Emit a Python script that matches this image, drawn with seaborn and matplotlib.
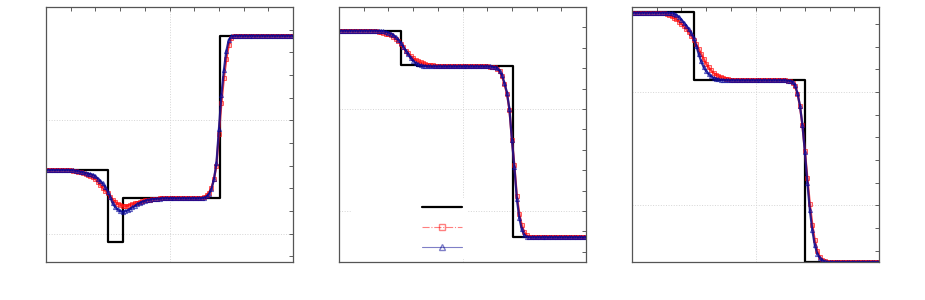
"""
Three-panel comparison of two numerical schemes against the exact
Riemann solution (step lines), tick labels left blank as in the source.
"""

import numpy as np
import matplotlib
matplotlib.use("Agg")
import matplotlib.pyplot as plt
import seaborn as sns
from matplotlib.lines import Line2D
from matplotlib.ticker import MultipleLocator

# mesh of the numerical solutions (cell positions)
x_num = np.round(np.linspace(0.0, 1.0, 101), 2)

# ---- panel 1 ----
p1_exact_x = [0.0, 0.251, 0.312, 0.704, 1.0]
p1_exact_y = [0.562, -0.076, 0.312, 1.747, 1.747]
p1_red = ([0.562] * 9
          + [0.561, 0.559, 0.556, 0.551, 0.546, 0.540, 0.533, 0.526, 0.518, 0.510,
             0.500, 0.482, 0.458, 0.430, 0.402, 0.378, 0.356, 0.326, 0.300, 0.280,
             0.264, 0.253, 0.246, 0.243, 0.245, 0.252, 0.260, 0.267, 0.274, 0.281,
             0.287, 0.293, 0.297, 0.301, 0.304, 0.307, 0.309, 0.311]
          + [0.312] * 15
          + [0.313, 0.316, 0.324, 0.338, 0.362, 0.405, 0.480, 0.600, 0.880, 1.150,
             1.370, 1.540, 1.665, 1.725, 1.742, 1.746]
          + [1.747] * 23)
p1_blue = ([0.562] * 10
           + [0.561, 0.559, 0.556, 0.552, 0.547, 0.541, 0.535, 0.530, 0.526, 0.520,
              0.505, 0.485, 0.463, 0.444, 0.410, 0.370, 0.322, 0.268, 0.235, 0.214,
              0.198, 0.194, 0.198, 0.206, 0.218, 0.232, 0.246, 0.260, 0.272, 0.282,
              0.290, 0.296, 0.301, 0.304, 0.307, 0.309, 0.310, 0.311]
           + [0.312] * 14
           + [0.312, 0.314, 0.318, 0.328, 0.350, 0.395, 0.480, 0.620, 0.920, 1.220,
              1.440, 1.610, 1.710, 1.740, 1.746]
           + [1.747] * 24)

# ---- panel 2 ----
p2_exact_x = [0.0, 0.25, 0.314, 0.703, 1.0]
p2_exact_y = [1.768, 1.436, 1.417, -0.258, -0.258]
p2_red = ([1.768] * 13
          + [1.767, 1.765, 1.762, 1.758, 1.753, 1.747, 1.740, 1.732, 1.722, 1.706,
             1.687, 1.665, 1.637, 1.606, 1.572, 1.545, 1.518, 1.497, 1.481, 1.467,
             1.456, 1.447, 1.440, 1.434, 1.430, 1.427, 1.425, 1.423, 1.421, 1.420,
             1.419]
          + [1.417] * 16
          + [1.417, 1.416, 1.414, 1.410, 1.397, 1.370, 1.320, 1.245, 1.150, 0.990,
             0.700, 0.450, 0.150, -0.030, -0.140, -0.210, -0.240, -0.252, -0.256]
          + [-0.258] * 22)
p2_blue = ([1.768] * 16
           + [1.767, 1.765, 1.762, 1.757, 1.750, 1.740, 1.725, 1.705, 1.680, 1.650,
              1.612, 1.572, 1.535, 1.500, 1.473, 1.452, 1.438, 1.429, 1.424, 1.421,
              1.419, 1.418]
           + [1.417] * 22
           + [1.417, 1.417, 1.415, 1.411, 1.400, 1.375, 1.330, 1.255, 1.160, 1.000,
              0.700, 0.430, 0.120, -0.070, -0.180, -0.235, -0.252, -0.257]
           + [-0.258] * 23)

# ---- panel 3 ----
p3_exact_x = [0.0, 0.25, 0.7016, 1.0]
p3_exact_y = [1.706, 1.103, -0.5, -0.5]
p3_red = ([1.700] * 12
          + [1.698, 1.694, 1.688, 1.679, 1.668, 1.655, 1.640, 1.622, 1.602, 1.582,
             1.556, 1.527, 1.494, 1.459, 1.420, 1.378, 1.335, 1.292, 1.250, 1.217,
             1.190, 1.168, 1.152, 1.140, 1.131, 1.124, 1.119, 1.114, 1.110, 1.107,
             1.105, 1.104]
          + [1.103] * 18
          + [1.102, 1.099, 1.094, 1.083, 1.050, 0.985, 0.875, 0.705, 0.480, 0.240,
             0.010, -0.170, -0.310, -0.400, -0.455, -0.482, -0.494, -0.498]
          + [-0.500] * 21)
p3_blue = ([1.700] * 15
           + [1.699, 1.696, 1.690, 1.680, 1.662, 1.638, 1.612, 1.585, 1.555, 1.518,
              1.474, 1.410, 1.335, 1.270, 1.220, 1.185, 1.158, 1.138, 1.125, 1.117,
              1.111, 1.108, 1.106, 1.104]
           + [1.103] * 23
           + [1.102, 1.100, 1.097, 1.090, 1.060, 0.990, 0.880, 0.710, 0.470, 0.200,
              -0.040, -0.220, -0.350, -0.425, -0.465, -0.486, -0.495]
           + [-0.500] * 22)

y_limits = [(-0.25, 2.0), (-0.5, 2.0), (-0.5, 1.75)]

# dense overlapping markers in the source read as saturated bands
RED_LINE = (1.0, 0.1, 0.1, 0.85)
RED_EDGE = (1.0, 0.0, 0.0, 0.6)
RED_FACE = (1.0, 0.2, 0.2, 0.3)
BLUE_LINE = (0.05, 0.05, 0.55, 0.85)
BLUE_EDGE = (0.0, 0.0, 0.6, 0.6)
BLUE_FACE = (0.2, 0.2, 0.7, 0.3)


def style_axis(ax, ylim):
    ax.set_xlim(0, 1)
    ax.set_ylim(*ylim)
    ax.xaxis.set_major_locator(MultipleLocator(0.5))
    ax.xaxis.set_minor_locator(MultipleLocator(0.1))
    ax.yaxis.set_major_locator(MultipleLocator(1.0))
    ax.yaxis.set_minor_locator(MultipleLocator(0.2))
    ax.grid(True, which="major", linestyle=":", color="#d5d5d5", linewidth=0.7)
    ax.tick_params(which="both", direction="in", top=True, right=True,
                   length=3, width=0.6, color="#444444",
                   labelbottom=False, labelleft=False)
    for sp in ax.spines.values():
        sp.set_color("#555555")
        sp.set_linewidth(0.9)
    ax.set_xlabel("")
    ax.set_ylabel("")


def draw_panel(ax, ex_x, ex_y, red, blue):
    assert len(red) == len(x_num) and len(blue) == len(x_num)
    sns.lineplot(x=ex_x, y=ex_y, ax=ax, color="black", linewidth=1.6,
                 drawstyle="steps-post", estimator=None, sort=False)
    sns.lineplot(x=x_num, y=red, ax=ax, color=RED_LINE, linewidth=1.6,
                 linestyle="-", marker="s", markersize=3.0,
                 markerfacecolor=RED_FACE, markeredgecolor=RED_EDGE,
                 markeredgewidth=0.7, estimator=None, sort=False)
    sns.lineplot(x=x_num, y=blue, ax=ax, color=BLUE_LINE, linewidth=1.6,
                 linestyle="-", marker="^", markersize=3.0,
                 markerfacecolor=BLUE_FACE, markeredgecolor=BLUE_EDGE,
                 markeredgewidth=0.7, estimator=None, sort=False)


sns.set_style("white")
plt.rcParams["font.family"] = ["DejaVu Sans"]

fig = plt.figure(figsize=(9.25, 3.0), dpi=100)
lefts = [46 / 925, 339 / 925, 632 / 925]
axes = [fig.add_axes([l, 38 / 300, 247 / 925, 255 / 300]) for l in lefts]

panels = [
    (p1_exact_x, p1_exact_y, p1_red, p1_blue),
    (p2_exact_x, p2_exact_y, p2_red, p2_blue),
    (p3_exact_x, p3_exact_y, p3_red, p3_blue),
]
for ax, (ex_x, ex_y, red, blue), ylim in zip(axes, panels, y_limits):
    draw_panel(ax, ex_x, ex_y, red, blue)
    style_axis(ax, ylim)

# legend sits in the middle panel, labels are blank in the source image
handles = [
    Line2D([], [], color="black", linewidth=1.6),
    Line2D([], [], color="red", linewidth=0.8, linestyle="-.", marker="s",
           markersize=5, markerfacecolor="none", alpha=0.5),
    Line2D([], [], color="#000090", linewidth=0.8, linestyle="-", marker="^",
           markersize=5, markerfacecolor="none", alpha=0.5),
]
leg = axes[1].legend(handles, ["             "] * 3, loc="lower right",
                     bbox_to_anchor=(0.514, 0.016), markerfirst=False,
                     handlelength=2.9, fontsize=10, labelspacing=0.4,
                     borderpad=0.25, borderaxespad=0.0,
                     frameon=True, fancybox=False)
leg.get_frame().set_facecolor("white")
leg.get_frame().set_edgecolor("white")
leg.get_frame().set_alpha(1.0)
# keep the frame under the spines so the bottom axis line stays visible
leg.set_zorder(2.2)

fig.savefig("out.png", dpi=100)
